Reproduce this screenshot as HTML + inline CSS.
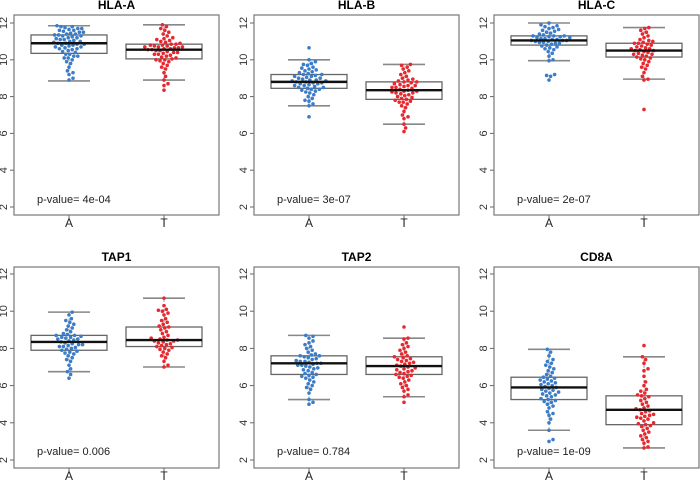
<!DOCTYPE html>
<html><head><meta charset="utf-8">
<style>
html,body{margin:0;padding:0;background:#fff;}
svg{display:block;font-family:"Liberation Sans",sans-serif;}
</style></head>
<body>
<svg id="chart" width="700" height="485" viewBox="0 0 700 485"></svg>
<script>
const genes = ["HLA-A","HLA-B","HLA-C","TAP1","TAP2","CD8A"];
const pvalues = ["4e-04","3e-07","2e-07","0.006","0.784","1e-09"];
const groups = ["A","T"];
const yTicks = [2,4,6,8,10,12];
// box stats: [whiskerLow, q1, median, q3, whiskerHigh]
const statsA = [[8.85,10.35,10.9,11.35,11.85],[7.5,8.45,8.8,9.2,10.0],[9.95,10.8,11.05,11.3,12.0],[6.75,7.9,8.35,8.7,9.95],[5.25,6.6,7.2,7.6,8.7],[3.6,5.25,5.9,6.45,7.95]];
const statsT = [[8.9,10.05,10.55,10.85,11.9],[6.5,7.85,8.35,8.8,9.75],[8.95,10.15,10.5,10.9,11.75],[7.0,8.1,8.45,9.15,10.7],[5.4,6.6,7.05,7.55,8.55],[2.65,3.9,4.7,5.45,7.55]];
const hlaA_A=[8.9,9.0,9.2,9.3,9.4,9.6,9.8,9.9,10.0,10.1,10.1,10.2,10.2,10.3,10.3,10.4,10.45,10.5,10.55,10.6,10.6,10.65,10.7,10.7,10.75,10.8,10.8,10.85,10.85,10.9,10.9,10.95,11.0,11.0,11.05,11.1,11.1,11.15,11.2,11.2,11.25,11.3,11.3,11.35,11.35,11.4,11.4,11.45,11.5,11.5,11.55,11.6,11.6,11.65,11.7,11.7,11.75,11.8,11.85,11.8];
const hlaA_T=[8.35,8.6,8.7,8.9,9.1,9.3,9.5,9.6,9.7,9.8,9.9,9.95,10.0,10.0,10.05,10.1,10.15,10.2,10.25,10.3,10.3,10.35,10.4,10.4,10.45,10.5,10.5,10.55,10.55,10.6,10.6,10.65,10.65,10.7,10.7,10.7,10.75,10.75,10.8,10.8,10.85,10.85,10.9,10.95,11.0,11.05,11.1,11.15,11.2,11.3,11.4,11.5,11.6,11.7,11.8,11.9];
const hlaB_A=[6.9,7.5,7.6,7.75,7.8,7.9,8.0,8.1,8.2,8.25,8.3,8.35,8.4,8.4,8.45,8.5,8.5,8.55,8.6,8.6,8.65,8.7,8.7,8.75,8.75,8.8,8.8,8.85,8.85,8.9,8.9,8.95,9.0,9.0,9.05,9.1,9.1,9.15,9.2,9.2,9.25,9.3,9.35,9.4,9.45,9.5,9.55,9.6,9.7,9.75,9.8,9.9,10.0,10.65];
const hlaB_T=[6.1,6.3,6.5,6.8,6.9,7.0,7.2,7.4,7.5,7.6,7.7,7.7,7.75,7.8,7.85,7.9,7.95,8.0,8.05,8.1,8.15,8.2,8.2,8.25,8.3,8.3,8.35,8.4,8.45,8.5,8.5,8.55,8.6,8.6,8.65,8.7,8.75,8.8,8.8,8.85,8.9,8.95,9.0,9.1,9.2,9.3,9.4,9.5,9.6,9.7,9.75];
const hlaC_A=[8.9,9.1,9.15,9.2,9.95,10.0,10.2,10.35,10.45,10.55,10.6,10.65,10.7,10.75,10.8,10.85,10.9,10.9,10.95,10.95,11.0,11.0,11.05,11.05,11.05,11.1,11.1,11.15,11.15,11.2,11.2,11.25,11.25,11.3,11.3,11.3,11.35,11.4,11.45,11.5,11.55,11.6,11.65,11.7,11.75,11.8,11.85,11.9,12.0];
const hlaC_T=[7.3,8.9,8.95,9.1,9.3,9.5,9.6,9.7,9.8,9.9,10.0,10.05,10.1,10.15,10.2,10.25,10.3,10.3,10.35,10.4,10.45,10.5,10.5,10.55,10.6,10.6,10.65,10.7,10.75,10.8,10.85,10.9,10.9,10.95,11.0,11.05,11.1,11.2,11.3,11.4,11.5,11.6,11.7,11.75];
const tap1_A=[6.4,6.6,6.75,6.9,7.1,7.3,7.4,7.5,7.6,7.7,7.75,7.8,7.85,7.9,7.95,8.0,8.05,8.1,8.1,8.15,8.2,8.2,8.25,8.3,8.35,8.4,8.45,8.5,8.5,8.55,8.6,8.6,8.65,8.7,8.7,8.75,8.8,8.9,9.0,9.1,9.2,9.3,9.4,9.5,9.6,9.8,9.95];
const tap1_T=[7.0,7.1,7.3,7.5,7.6,7.7,7.8,7.9,7.95,8.0,8.05,8.1,8.15,8.2,8.25,8.3,8.35,8.4,8.4,8.45,8.45,8.5,8.55,8.6,8.7,8.8,8.9,9.0,9.1,9.15,9.2,9.3,9.4,9.5,9.6,9.8,9.9,10.0,10.05,10.1,10.3,10.7];
const tap2_A=[5.0,5.1,5.25,5.6,5.8,5.9,6.0,6.1,6.2,6.3,6.4,6.45,6.5,6.55,6.6,6.65,6.7,6.8,6.85,6.9,6.95,7.0,7.05,7.1,7.1,7.15,7.2,7.2,7.25,7.3,7.3,7.35,7.4,7.45,7.5,7.55,7.6,7.6,7.65,7.7,7.8,7.9,8.0,8.1,8.2,8.3,8.4,8.55,8.65,8.7];
const tap2_T=[5.1,5.4,5.5,5.7,5.8,5.9,6.0,6.1,6.2,6.3,6.4,6.45,6.5,6.55,6.6,6.65,6.7,6.75,6.8,6.85,6.9,6.95,7.0,7.05,7.1,7.15,7.2,7.25,7.3,7.35,7.4,7.45,7.5,7.55,7.6,7.7,7.8,7.9,8.0,8.1,8.2,8.3,8.5,8.55,9.15];
const cd8a_A=[3.0,3.1,3.6,4.0,4.2,4.4,4.5,4.6,4.8,4.9,5.0,5.1,5.15,5.2,5.25,5.3,5.4,5.45,5.5,5.55,5.6,5.65,5.7,5.75,5.8,5.85,5.9,5.95,6.0,6.05,6.1,6.15,6.2,6.25,6.3,6.35,6.4,6.45,6.5,6.6,6.7,6.8,6.9,7.0,7.1,7.2,7.3,7.4,7.6,7.8,7.95];
const cd8a_T=[2.65,2.7,2.9,3.0,3.1,3.2,3.3,3.4,3.5,3.6,3.7,3.8,3.85,3.9,3.95,4.0,4.1,4.2,4.25,4.3,4.35,4.4,4.45,4.5,4.6,4.65,4.7,4.75,4.8,4.9,5.0,5.1,5.2,5.3,5.4,5.45,5.5,5.6,5.7,5.8,6.0,6.2,6.5,6.8,6.9,7.2,7.4,7.55,8.15];
const valuesA=[hlaA_A,hlaB_A,hlaC_A,tap1_A,tap2_A,cd8a_A];
const valuesT=[hlaA_T,hlaB_T,hlaC_T,tap1_T,tap2_T,cd8a_T];

const NS="http://www.w3.org/2000/svg";
const svg=document.getElementById("chart");
function mk(tag,attrs,parent){const e=document.createElementNS(NS,tag);for(const k in attrs)e.setAttribute(k,attrs[k]);(parent||svg).appendChild(e);return e;}

function swarm(vals,cx,yf,d){
  const sorted=vals.slice().sort((a,b)=>a-b);
  const placed=[];
  const out=[];
  sorted.forEach(v=>{
    const y=yf(v);
    let best=null;
    for(let k=0;k<60;k++){
      const cands=k===0?[0]:[k*0.8,-k*0.8];
      for(const off of cands){
        let ok=true;
        for(const p of placed){const dx=p.x-(cx+off),dy=p.y-y;if(dx*dx+dy*dy<d*d){ok=false;break;}}
        if(ok){best=off;break;}
      }
      if(best!==null)break;
    }
    if(best===null)best=0;
    placed.push({x:cx+best,y:y});
    out.push({x:cx+best,y:y,v:v});
  });
  return out;
}

genes.forEach((gene,i)=>{
  const col=i%3,row=Math.floor(i/3);
  const left=14+col*240,right=left+205;
  const top=row===0?15:267,bottom=row===0?215:468;
  const y12=row===0?23:274,y2=row===0?207:460;
  const yf=v=>y2-(v-2)*(y2-y12)/10;
  const g=mk("g",{});
  
  
  const title=mk("text",{x:(left+right)/2,y:top-6,"text-anchor":"middle","font-size":"12","font-weight":"bold",fill:"#000"},g);
  title.textContent=gene;
  
  
  yTicks.forEach(t=>{
    const y=yf(t);
    mk("line",{x1:left-4,x2:left,y1:y,y2:y,stroke:"#666","stroke-width":1},g);
    const lbl=mk("text",{x:0,y:0,transform:`translate(${left-7},${y}) rotate(-90)`,"text-anchor":"middle","font-size":"11",fill:"#333"},g);
    lbl.textContent=t;
    
    
  });
  const centers=[left+55,left+150];
  const stats=[statsA[i],statsT[i]];
  const vals=[valuesA[i],valuesT[i]];
  const colors=["#3b7dc8","#e8282e"];
  groups.forEach((grp,j)=>{
    const cx=centers[j],s=stats[j];
    mk("line",{x1:cx,x2:cx,y1:yf(s[0]),y2:yf(s[4]),stroke:"#999","stroke-width":1,"stroke-dasharray":"3,2"},g);
    [s[0],s[4]].forEach(w=>{
      const cap=mk("line",{x1:cx-21,x2:cx+21,y1:yf(w),y2:yf(w),stroke:"#888","stroke-width":1.6},g);
      
      
    });
    const box=mk("rect",{x:cx-38,y:yf(s[3]),width:76,height:yf(s[1])-yf(s[3]),fill:"#fff",stroke:"#666","stroke-width":1.3},g);
    
    
    const pts=swarm(vals[j],cx,yf,4.0);
    pts.forEach(p=>{
      const c=mk("circle",{cx:p.x.toFixed(2),cy:p.y.toFixed(2),r:1.8,fill:colors[j]},g);
      
      
    });
    const med=mk("line",{x1:cx-38,x2:cx+38,y1:yf(s[2]),y2:yf(s[2]),stroke:"#111","stroke-width":2.4},g);
    
    
    mk("line",{x1:cx,x2:cx,y1:bottom,y2:bottom+4,stroke:"#666","stroke-width":1},g);
    const xl=mk("text",{x:cx,y:bottom+12,"text-anchor":"middle","font-size":"12",fill:"#222"},g);
    xl.textContent=grp;
    
    
  });
  const frame=mk("rect",{x:left,y:top,width:right-left,height:bottom-top,fill:"none",stroke:"#777","stroke-width":1.2},g);
  
  
  const pv=mk("text",{x:left+23,y:row===0?203:455,"font-size":"11",fill:"#222"},g);
  pv.textContent="p-value= "+pvalues[i];
  
  
});
</script>
</body></html>
